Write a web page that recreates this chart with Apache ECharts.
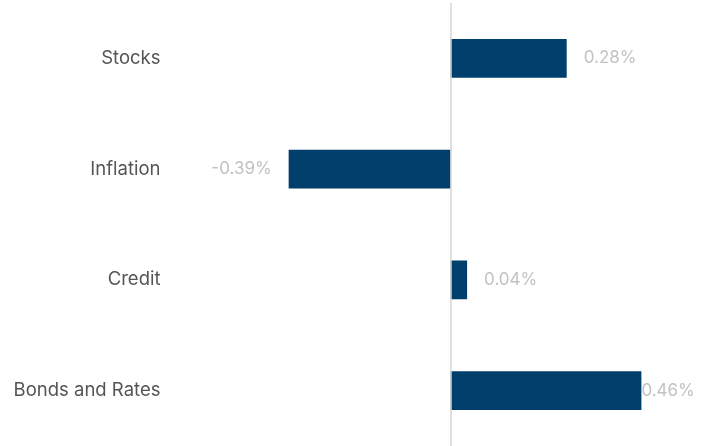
<!DOCTYPE html>
<html><head><meta charset="utf-8">
<script src="https://cdn.jsdelivr.net/npm/echarts@6/dist/echarts.min.js"></script>
<style>html,body{margin:0;padding:0;background:#fff}#c{width:710px;height:446px}</style>
</head><body><div id="c"></div>
<script>
const categories = ["Stocks", "Inflation", "Credit", "Bonds and Rates"];
const values = [0.28, -0.39, 0.04, 0.46];

const chart = echarts.init(document.getElementById('c'), null, {renderer: 'canvas'});
const FONT = 'Inter, sans-serif';
chart.setOption({
  animation: false,
  grid: {left: 201.5, right: 10.5, top: 3, bottom: 0, containLabel: false},
  xAxis: {
    type: 'value', min: -0.6, max: 0.6, show: false
  },
  yAxis: {
    type: 'category', data: categories, inverse: true,
    axisLine: {show: false}, axisTick: {show: false}, splitLine: {show: false},
    axisLabel: {color: '#555555', fontSize: 18.5, fontFamily: FONT, margin: 41, padding: [2, 0, 0, 0]}
  },
  series: [{
    type: 'bar',
    data: values.map((v, i) => ({
      value: v,
      label: {
        position: v < 0 ? 'left' : 'right',
        distance: i === values.length - 1 ? 0 : 17
      }
    })),
    barCategoryGap: '65%',
    itemStyle: {color: '#003f6c'},
    label: {
      show: true,
      color: '#c2c2c2', fontSize: 17, fontFamily: FONT,
      formatter: p => p.value.toFixed(2) + '%'
    },
    markLine: {
      silent: true, symbol: 'none', label: {show: false},
      lineStyle: {color: '#d4d4d4', width: 1.5, type: 'solid'},
      data: [{xAxis: 0}]
    }
  }]
});
</script></body></html>
